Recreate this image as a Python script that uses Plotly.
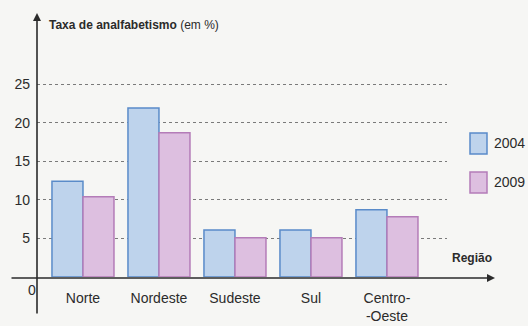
import plotly.graph_objects as go

# Illiteracy rate by region (%), 2004 vs 2009
regioes = ["Norte", "Nordeste", "Sudeste", "Sul", "Centro-<br>-Oeste"]
taxa_2004 = [12.4, 21.9, 6.1, 6.1, 8.7]
taxa_2009 = [10.4, 18.7, 5.1, 5.1, 7.8]
y_ticks = [5, 10, 15, 20, 25]

W, H = 528, 326
L, R, T, B = 37, 81, 20, 49
plot_w, plot_h = W - L - R, H - T - B

FONT = "Liberation Sans Narrow, Arial Narrow, sans-serif"
INK = "#2b2b2b"
BLUE_FILL, BLUE_LINE = "#bed3ec", "#5a8bc9"
PINK_FILL, PINK_LINE = "#ddbfe0", "#b47cb8"
BG = "#f6f6f4"

fig = go.Figure()
fig.add_trace(go.Bar(x=regioes, y=taxa_2004, name="2004", showlegend=False,
                     marker=dict(color=BLUE_FILL, line=dict(color=BLUE_LINE, width=1.5))))
fig.add_trace(go.Bar(x=regioes, y=taxa_2009, name="2009", showlegend=False,
                     marker=dict(color=PINK_FILL, line=dict(color=PINK_LINE, width=1.5))))


def px_x(px):
    return (px - L) / plot_w


def px_y(py):
    return (H - B - py) / plot_h


annotations = [
    # y axis with arrow
    dict(xref="paper", yref="paper", x=0, y=px_y(13), ax=0, ay=302, text="",
         showarrow=True, arrowhead=2, arrowsize=1, arrowwidth=1.6, arrowcolor=INK),
    # x axis with arrow
    dict(xref="paper", yref="paper", x=px_x(495), y=px_y(278), ax=-485, ay=0, text="",
         showarrow=True, arrowhead=2, arrowsize=1, arrowwidth=1.6, arrowcolor=INK),
    dict(xref="paper", yref="paper", x=px_x(47), y=px_y(25), xanchor="left", yanchor="middle",
         text="<b>Taxa de analfabetismo</b> (em %)", showarrow=False,
         font=dict(family=FONT, size=12, color=INK)),
    dict(xref="paper", yref="paper", x=px_x(472), y=px_y(258), xanchor="center", yanchor="middle",
         text="<b>Região</b>", showarrow=False, font=dict(family=FONT, size=12, color=INK)),
    dict(xref="paper", yref="paper", x=px_x(32), y=px_y(290), xanchor="center", yanchor="middle",
         text="0", showarrow=False, font=dict(family=FONT, size=14, color=INK)),
    dict(xref="paper", yref="paper", x=px_x(492), y=px_y(143), xanchor="left", yanchor="middle",
         text="2004", showarrow=False, font=dict(family=FONT, size=14, color=INK)),
    dict(xref="paper", yref="paper", x=px_x(492), y=px_y(182), xanchor="left", yanchor="middle",
         text="2009", showarrow=False, font=dict(family=FONT, size=14, color=INK)),
]

shapes = [
    dict(type="rect", xref="paper", yref="paper", x0=px_x(470), x1=px_x(487),
         y0=px_y(154), y1=px_y(133), fillcolor=BLUE_FILL, line=dict(color=BLUE_LINE, width=1.5)),
    dict(type="rect", xref="paper", yref="paper", x0=px_x(470), x1=px_x(487),
         y0=px_y(193), y1=px_y(172), fillcolor=PINK_FILL, line=dict(color=PINK_LINE, width=1.5)),
]

fig.update_layout(
    width=W, height=H,
    margin=dict(l=L, r=R, t=T, b=B, pad=0, autoexpand=False),
    paper_bgcolor=BG, plot_bgcolor=BG,
    barmode="group", bargap=0.184, bargroupgap=0,
    font=dict(family=FONT, color=INK),
    annotations=annotations, shapes=shapes,
    xaxis=dict(range=[-0.605, 4.79], showgrid=False, zeroline=False, showline=False,
               automargin=False, ticks="", tickfont=dict(size=14, color=INK),
               ticklabelstandoff=11),
    yaxis=dict(range=[0, plot_h / 7.72], tickvals=y_ticks, showgrid=True,
               gridcolor="#7a7a7a", griddash="dot", gridwidth=1, zeroline=False,
               showline=False, automargin=False, ticks="", ticklabelstandoff=6,
               tickfont=dict(size=14, color=INK)),
)

fig.write_html("out.html")
